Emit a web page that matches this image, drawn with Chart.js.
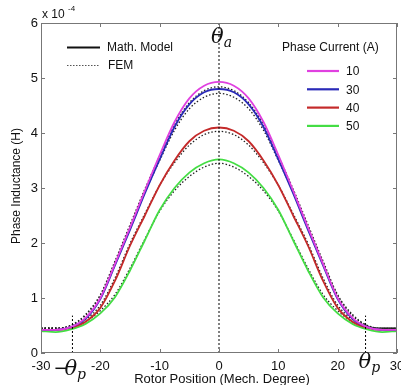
<!DOCTYPE html>
<html>
<head>
<meta charset="utf-8">
<script src="https://cdn.jsdelivr.net/npm/chart.js@4.4.0/dist/chart.umd.min.js"></script>
<style>
  html, body { margin: 0; padding: 0; background: #fff; }
  #wrap { width: 401px; height: 385px; }
</style>
</head>
<body>
<div id="wrap"><canvas id="chart" width="401" height="385"></canvas></div>
<script>
// rotor position (deg), inductance in units of 1e-4 H
const positions = [-30, -27.5, -25, -22.5, -20, -17.5, -15, -12.5, -10, -7.5, -5, -2.5, 0,
                   2.5, 5, 7.5, 10, 12.5, 15, 17.5, 20, 22.5, 25, 27.5, 30];
const currents = ['10', '30', '40', '50'];
const model10 = [0.42, 0.42, 0.47, 0.64, 1.00, 1.63, 2.28, 2.95, 3.60, 4.20, 4.63, 4.86, 4.93,
                 4.86, 4.63, 4.20, 3.60, 2.95, 2.28, 1.63, 1.00, 0.64, 0.47, 0.42, 0.42];
const model30 = [0.42, 0.42, 0.47, 0.62, 0.98, 1.60, 2.24, 2.90, 3.52, 4.11, 4.52, 4.74, 4.80,
                 4.74, 4.52, 4.11, 3.52, 2.90, 2.24, 1.60, 0.98, 0.62, 0.47, 0.42, 0.42];
const model40 = [0.42, 0.42, 0.46, 0.57, 0.82, 1.32, 1.95, 2.50, 3.05, 3.50, 3.85, 4.04, 4.10,
                 4.04, 3.85, 3.50, 3.05, 2.50, 1.95, 1.32, 0.82, 0.57, 0.46, 0.42, 0.42];
const model50 = [0.40, 0.38, 0.43, 0.53, 0.72, 1.02, 1.50, 2.05, 2.60, 3.00, 3.28, 3.45, 3.52,
                 3.45, 3.28, 3.00, 2.60, 2.05, 1.50, 1.02, 0.72, 0.53, 0.43, 0.38, 0.40];
const fem10 = [0.45, 0.45, 0.50, 0.70, 1.06, 1.68, 2.33, 2.98, 3.58, 4.15, 4.55, 4.77, 4.84,
               4.77, 4.55, 4.15, 3.58, 2.98, 2.33, 1.68, 1.06, 0.70, 0.50, 0.45, 0.45];
const fem30 = [0.45, 0.45, 0.50, 0.68, 1.04, 1.65, 2.28, 2.92, 3.50, 4.05, 4.44, 4.65, 4.72,
               4.65, 4.44, 4.05, 3.50, 2.92, 2.28, 1.65, 1.04, 0.68, 0.50, 0.45, 0.45];
const fem40 = [0.45, 0.45, 0.49, 0.61, 0.87, 1.37, 1.99, 2.53, 3.05, 3.46, 3.78, 3.97, 4.03,
               3.97, 3.78, 3.46, 3.05, 2.53, 1.99, 1.37, 0.87, 0.61, 0.49, 0.45, 0.45];
const fem50 = [0.45, 0.45, 0.47, 0.57, 0.77, 1.07, 1.54, 2.07, 2.58, 2.95, 3.21, 3.38, 3.45,
               3.38, 3.21, 2.95, 2.58, 2.07, 1.54, 1.07, 0.77, 0.57, 0.47, 0.45, 0.45];
const xTicks = [-30, -20, -10, 0, 10, 20, 30];
const yTicks = [0, 1, 2, 3, 4, 5, 6];
const thetaP = 24.7;
const thetaMarkTop = 0.68;

const colors = ['#e040e0', '#2a2ab8', '#c42a2a', '#44dd44'];
const modelSeries = [model10, model30, model40, model50];
const femSeries = [fem10, fem30, fem40, fem50];

const pts = arr => arr.map((v, i) => ({ x: positions[i], y: v }));

const datasets = [];
// vertical reference lines
datasets.push({ data: [{ x: 0, y: 0 }, { x: 0, y: 6 }], borderColor: '#000', borderWidth: 1, borderDash: [2, 2], pointRadius: 0 });
datasets.push({ data: [{ x: -thetaP, y: 0 }, { x: -thetaP, y: thetaMarkTop }], borderColor: '#000', borderWidth: 1, borderDash: [2, 2], pointRadius: 0 });
datasets.push({ data: [{ x: thetaP, y: 0 }, { x: thetaP, y: thetaMarkTop }], borderColor: '#000', borderWidth: 1, borderDash: [2, 2], pointRadius: 0 });
modelSeries.forEach((s, i) => {
  datasets.push({ label: currents[i], data: pts(s), borderColor: colors[i], borderWidth: 1.8,
    pointRadius: 0, cubicInterpolationMode: 'monotone' });
});
femSeries.forEach((s, i) => {
  datasets.push({ label: 'FEM ' + currents[i], data: pts(s), borderColor: '#222', borderWidth: 1.3,
    borderDash: [1.5, 2], pointRadius: 0, cubicInterpolationMode: 'monotone' });
});

const FONT = '"Liberation Sans", Arial, sans-serif';

const decor = {
  id: 'decor',
  afterDraw(chart) {
    const { ctx, chartArea: a, scales: { x, y } } = chart;
    ctx.save();
    // box
    ctx.strokeStyle = '#777';
    ctx.lineWidth = 1;
    ctx.strokeRect(a.left + 0.5, a.top + 0.5, a.right - a.left - 1, a.bottom - a.top - 1);
    // inner ticks
    ctx.beginPath();
    xTicks.forEach(t => {
      const px = Math.round(x.getPixelForValue(t)) + 0.5;
      ctx.moveTo(px, a.bottom); ctx.lineTo(px, a.bottom - 4);
      ctx.moveTo(px, a.top); ctx.lineTo(px, a.top + 4);
    });
    yTicks.forEach(t => {
      const py = Math.round(y.getPixelForValue(t)) + 0.5;
      ctx.moveTo(a.left, py); ctx.lineTo(a.left + 4, py);
      ctx.moveTo(a.right, py); ctx.lineTo(a.right - 4, py);
    });
    ctx.stroke();

    // tick labels
    ctx.fillStyle = '#111';
    ctx.font = '13px ' + FONT;
    ctx.textAlign = 'center';
    ctx.textBaseline = 'middle';
    xTicks.forEach(t => ctx.fillText(String(t), x.getPixelForValue(t), a.bottom + 13));
    ctx.textAlign = 'right';
    yTicks.forEach(t => ctx.fillText(String(t), a.left - 3, y.getPixelForValue(t)));

    // exponent
    ctx.textAlign = 'left';
    ctx.font = '12px ' + FONT;
    ctx.fillText('x 10', a.left + 1, a.top - 8);
    ctx.font = '8px ' + FONT;
    ctx.fillText('-4', a.left + 27, a.top - 14);

    // axis titles
    ctx.font = '13px ' + FONT;
    ctx.textAlign = 'center';
    ctx.fillText('Rotor Position (Mech. Degree)', (a.left + a.right) / 2 + 3, 379);
    ctx.font = '12px ' + FONT;
    ctx.save();
    ctx.translate(17, 186);
    ctx.rotate(-Math.PI / 2);
    ctx.fillText('Phase Inductance (H)', 0, 0);
    ctx.restore();

    // theta labels
    const theta = (label, sub, px, py) => {
      ctx.textAlign = 'left';
      ctx.textBaseline = 'alphabetic';
      ctx.font = 'italic 21px "DejaVu Serif", "Liberation Serif", serif';
      ctx.fillText(label, px, py);
      const w = ctx.measureText(label).width;
      ctx.font = 'italic 14px "DejaVu Serif", "Liberation Serif", serif';
      ctx.fillText(sub, px + w, py + 4);
    };
    theta('θ', 'a', x.getPixelForValue(0) - 8, 43);
    ctx.font = '18px "DejaVu Sans", sans-serif';
    ctx.textAlign = 'left';
    ctx.textBaseline = 'alphabetic';
    ctx.fillText('−', x.getPixelForValue(-thetaP) - 19, 374);
    theta('θ', 'p', x.getPixelForValue(-thetaP) - 8, 375);
    theta('θ', 'p', x.getPixelForValue(thetaP) - 7, 368);

    // left legend
    ctx.textBaseline = 'middle';
    ctx.lineWidth = 2;
    ctx.strokeStyle = '#111';
    ctx.setLineDash([]);
    ctx.beginPath(); ctx.moveTo(67, 47.5); ctx.lineTo(100, 47.5); ctx.stroke();
    ctx.lineWidth = 1.2;
    ctx.strokeStyle = '#555';
    ctx.setLineDash([1.5, 1.5]);
    ctx.beginPath(); ctx.moveTo(67, 65.5); ctx.lineTo(100, 65.5); ctx.stroke();
    ctx.setLineDash([]);
    ctx.font = '12px ' + FONT;
    ctx.textAlign = 'left';
    ctx.fillText('Math. Model', 107, 48);
    ctx.fillText('FEM', 108, 66);

    // right legend
    ctx.fillText('Phase Current (A)', 282, 48);
    currents.forEach((c, i) => {
      const ly = 71 + i * 18.3;
      ctx.strokeStyle = colors[i];
      ctx.lineWidth = 2.2;
      ctx.beginPath(); ctx.moveTo(307, ly); ctx.lineTo(339, ly); ctx.stroke();
      ctx.fillText(c, 346, ly + 1);
    });
    ctx.restore();
  }
};

new Chart(document.getElementById('chart'), {
  type: 'line',
  data: { datasets },
  options: {
    responsive: false,
    animation: false,
    parsing: true,
    layout: { padding: { top: 23, right: 4, left: 0, bottom: 0 } },
    plugins: { legend: { display: false }, tooltip: { enabled: false } },
    scales: {
      x: {
        type: 'linear', min: -30, max: 30,
        grid: { display: false, drawTicks: false },
        border: { display: false },
        ticks: { display: false },
        afterFit: s => { s.height = 32; }
      },
      y: {
        min: 0, max: 6,
        grid: { display: false, drawTicks: false },
        border: { display: false },
        ticks: { display: false },
        afterFit: s => { s.width = 41; }
      }
    }
  },
  plugins: [decor]
});
</script>
</body>
</html>
